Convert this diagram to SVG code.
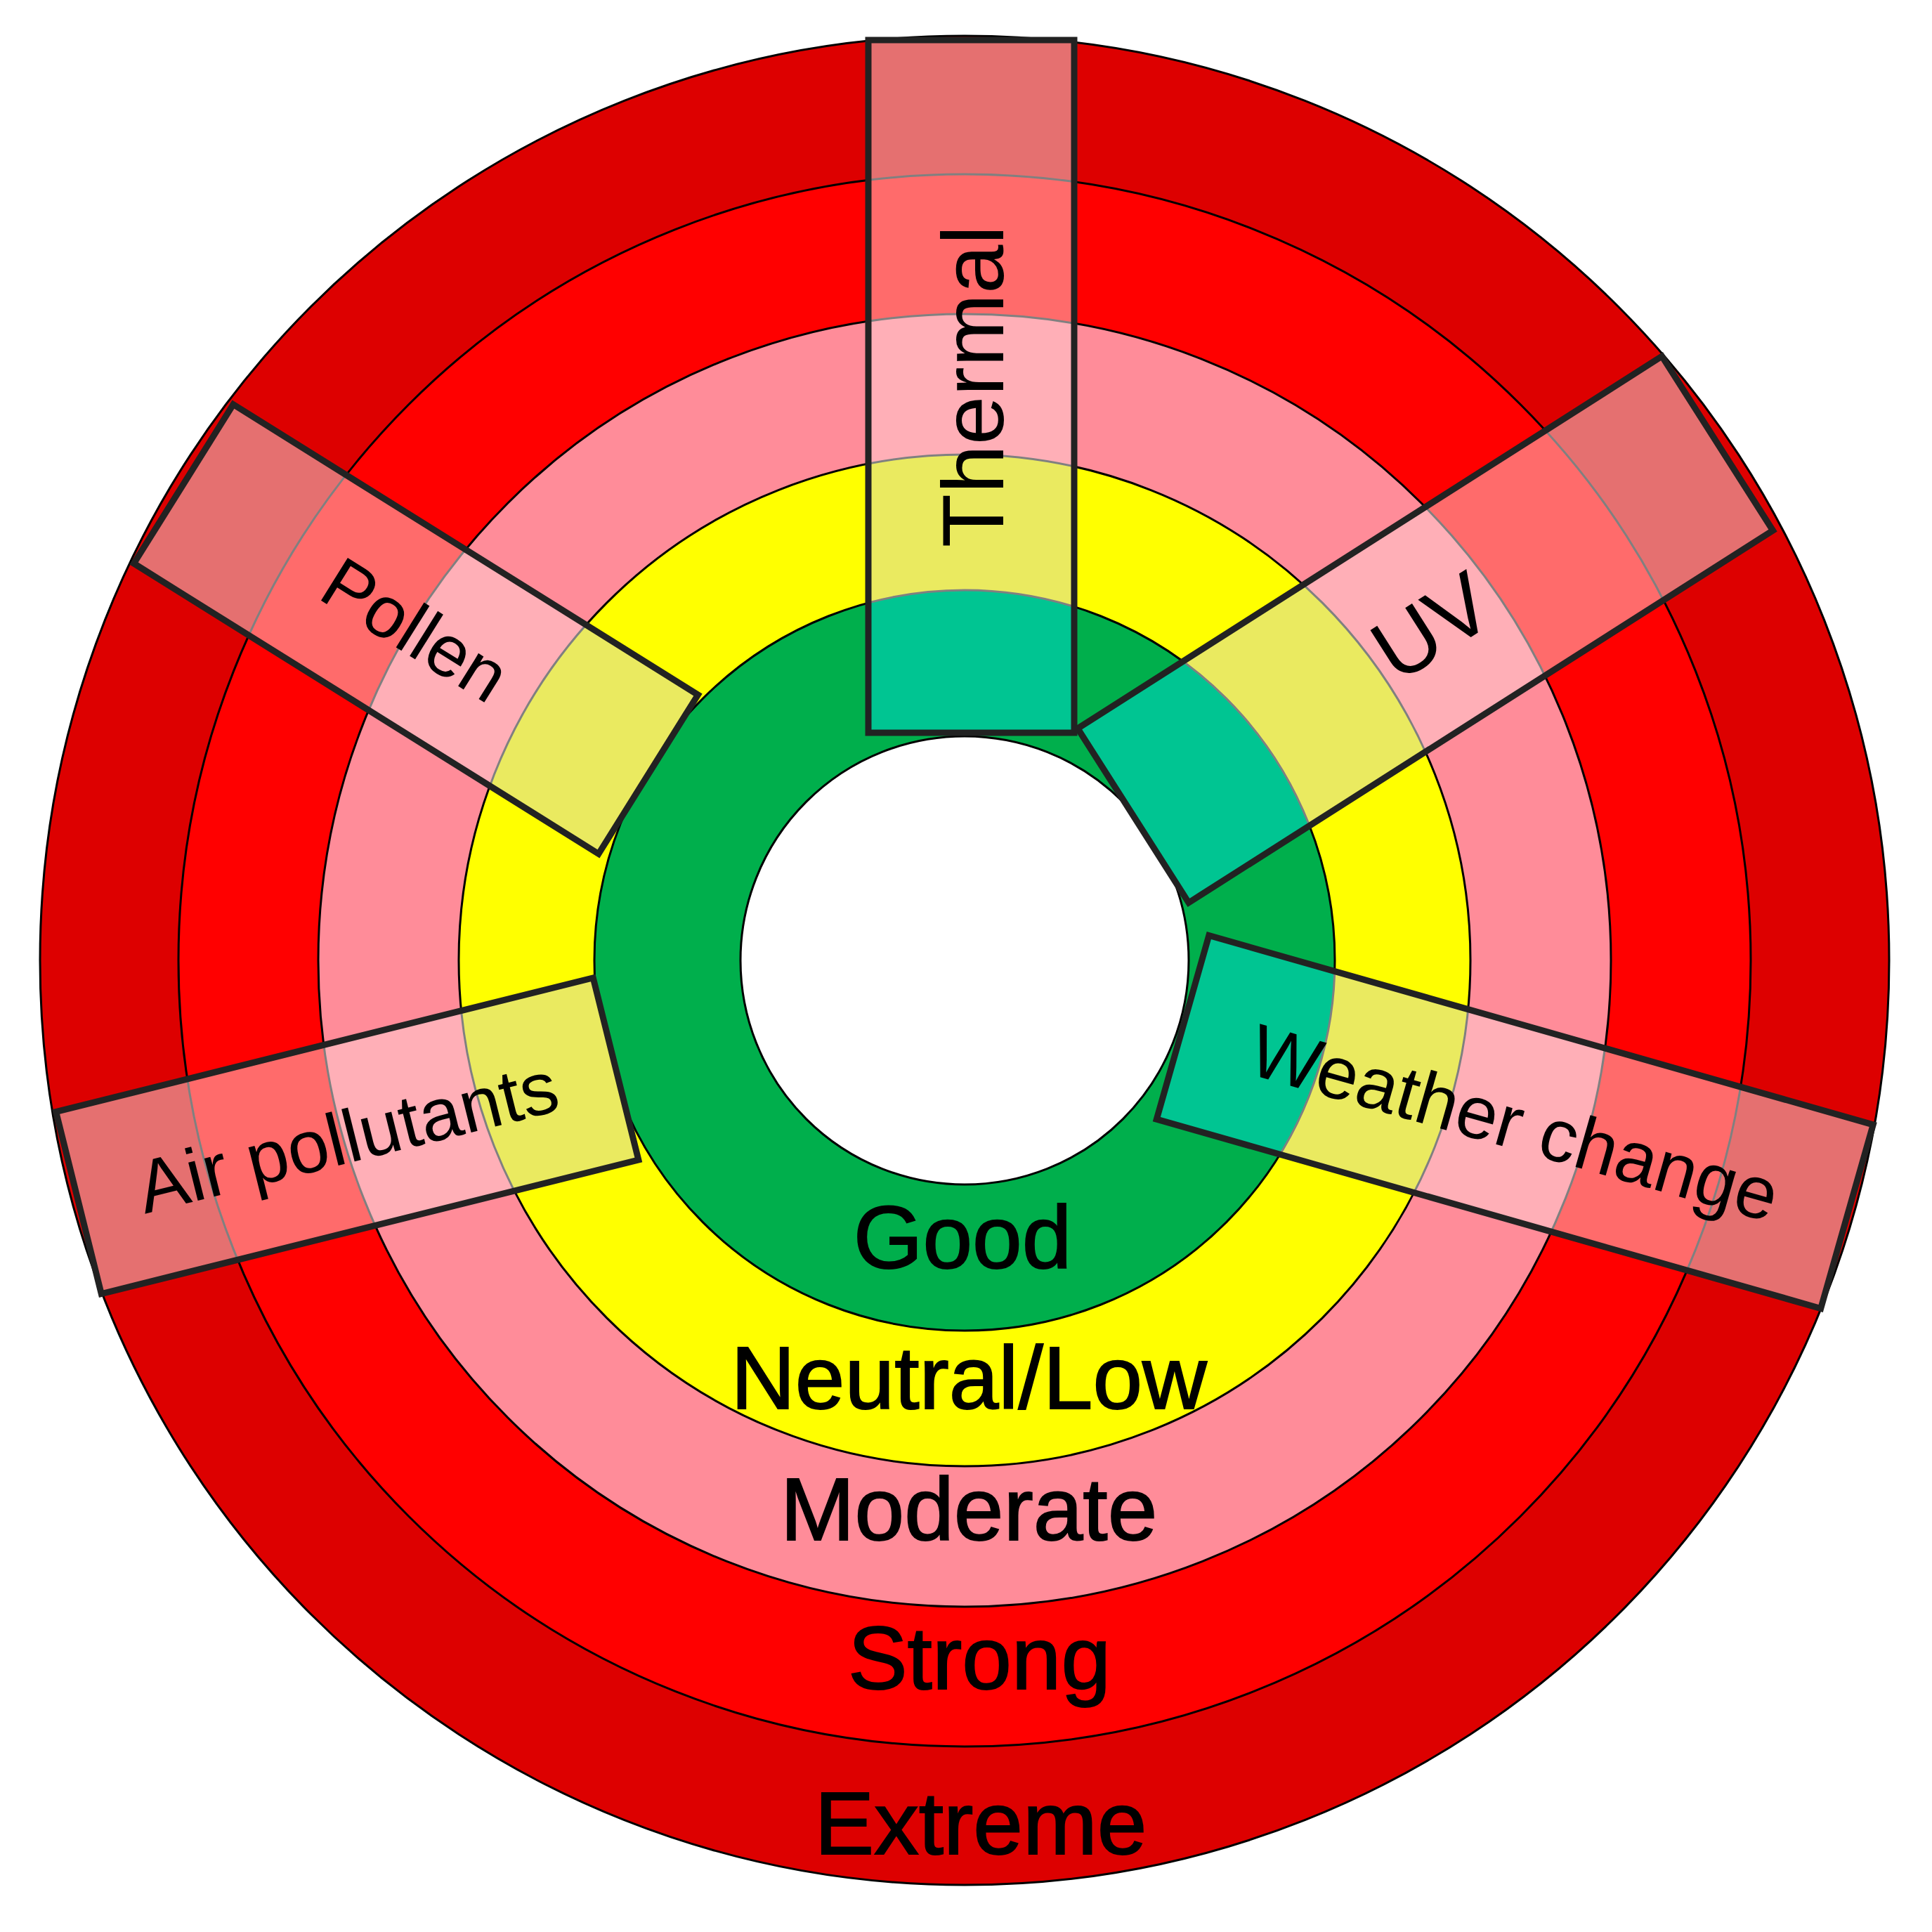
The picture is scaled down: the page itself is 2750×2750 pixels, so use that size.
<svg xmlns="http://www.w3.org/2000/svg" width="2750" height="2750" viewBox="0 0 2750 2750">
<style>
.ring{stroke:#000;stroke-width:3}
.ext{fill:#DD0000}.str{fill:#FF0000}.mod{fill:#FF8C99}.neu{fill:#FFFF00}.good{fill:#00AF4C}.hole{fill:#FFFFFF}
.bext{fill:#E57070}.bstr{fill:#FF6B6B}.bmod{fill:#FFAFB7}.bneu{fill:#EAEA60}.bgood{fill:#00C592}
.sep{fill:none;stroke:#808080;stroke-width:3}
.outline{fill:none;stroke:#222;stroke-width:9;stroke-linejoin:miter}
.lvl{font-family:"Liberation Sans",Arial,sans-serif;font-size:127px;fill:#000;stroke:#000;stroke-width:2;text-anchor:middle}
.lbl{font-family:"Liberation Sans",Arial,sans-serif;fill:#000;text-anchor:middle}
</style>
<defs>
<clipPath id="c-thermal"><rect x="-493" y="-146.5" width="986" height="293" transform="translate(1382.5 550) rotate(-90)"/></clipPath>
<clipPath id="c-uv"><rect x="-493" y="-147" width="986" height="294" transform="translate(2028.75 896) rotate(-32.5)"/></clipPath>
<clipPath id="c-weather"><rect x="-491.5" y="-136" width="983" height="272" transform="translate(2156.25 1597) rotate(15.9)"/></clipPath>
<clipPath id="c-air"><rect x="-394" y="-133.5" width="788" height="267" transform="translate(494.25 1616.75) rotate(-14)"/></clipPath>
<clipPath id="c-pollen"><rect x="-390" y="-133.5" width="780" height="267" transform="translate(592 895.5) rotate(32)"/></clipPath>
<g id="bandsTeal">
<circle cx="1373" cy="1367" r="1450" class="bext"/>
<circle cx="1373" cy="1367" r="1119" class="bstr"/>
<circle cx="1373" cy="1367" r="920" class="bmod"/>
<circle cx="1373" cy="1367" r="720" class="bneu"/>
<circle cx="1373" cy="1367" r="527" class="bgood"/>
<circle cx="1373" cy="1367" r="1119" class="sep"/>
<circle cx="1373" cy="1367" r="920" class="sep"/>
<circle cx="1373" cy="1367" r="720" class="sep"/>
<circle cx="1373" cy="1367" r="527" class="sep"/>
</g>
<g id="bandsNoTeal">
<circle cx="1373" cy="1367" r="1450" class="bext"/>
<circle cx="1373" cy="1367" r="1119" class="bstr"/>
<circle cx="1373" cy="1367" r="920" class="bmod"/>
<circle cx="1373" cy="1367" r="720" class="bneu"/>
<circle cx="1373" cy="1367" r="1119" class="sep"/>
<circle cx="1373" cy="1367" r="920" class="sep"/>
<circle cx="1373" cy="1367" r="720" class="sep"/>
</g>
</defs>
<rect width="2750" height="2750" fill="#FFFFFF"/>
<g id="rings">
<circle cx="1373" cy="1367" r="1316" class="ring ext"/>
<circle cx="1373" cy="1367" r="1119" class="ring str"/>
<circle cx="1373" cy="1367" r="920" class="ring mod"/>
<circle cx="1373" cy="1367" r="720" class="ring neu"/>
<circle cx="1373" cy="1367" r="527" class="ring good"/>
<circle cx="1373" cy="1367" r="319" class="ring hole"/>
</g>
<g id="level-labels">
<text class="lvl" x="1370" y="1805">Good</text>
<text class="lvl" x="1379" y="2005">Neutral/Low</text>
<text class="lvl" x="1379" y="2192">Moderate</text>
<text class="lvl" x="1394" y="2404">Strong</text>
<text class="lvl" x="1396" y="2639">Extreme</text>
</g>
<g id="connectors"></g>
<g id="bar-pollen">
<g clip-path="url(#c-pollen)"><use href="#bandsNoTeal"/></g>
<rect class="outline" x="-390" y="-133.5" width="780" height="267" transform="translate(592 895.5) rotate(32)"/>
<text class="lbl" font-size="104" x="0" y="37" transform="translate(592 895.5) rotate(32)">Pollen</text>
</g>
<g id="bar-air">
<g clip-path="url(#c-air)"><use href="#bandsNoTeal"/></g>
<rect class="outline" x="-394" y="-133.5" width="788" height="267" transform="translate(494.25 1616.75) rotate(-14)"/>
<text class="lbl" font-size="106" x="0" y="38" transform="translate(494.25 1616.75) rotate(-14)">Air pollutants</text>
</g>
<g id="bar-weather">
<g clip-path="url(#c-weather)"><use href="#bandsTeal"/></g>
<rect class="outline" x="-491.5" y="-136" width="983" height="272" transform="translate(2156.25 1597) rotate(15.9)"/>
<text class="lbl" font-size="106" x="0" y="38" transform="translate(2156.25 1597) rotate(15.9)">Weather change</text>
</g>
<g id="bar-uv">
<g clip-path="url(#c-uv)"><use href="#bandsTeal"/></g>
<rect class="outline" x="-493" y="-147" width="986" height="294" transform="translate(2028.75 896) rotate(-32.5)"/>
<text class="lbl" font-size="124" x="10" y="44" transform="translate(2028.75 896) rotate(-32.5)">UV</text>
</g>
<g id="bar-thermal">
<g clip-path="url(#c-thermal)"><use href="#bandsTeal"/></g>
<rect class="outline" x="-493" y="-146.5" width="986" height="293" transform="translate(1382.5 550) rotate(-90)"/>
<text class="lbl" font-size="125" x="0" y="45" transform="translate(1382.5 550) rotate(-90)">Thermal</text>
</g>
</svg>
